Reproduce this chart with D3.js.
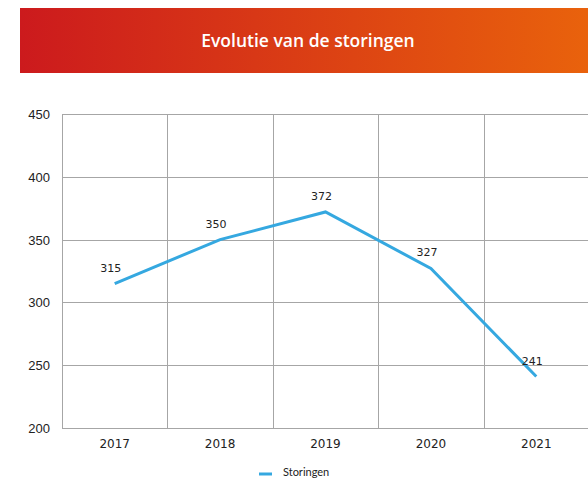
<!DOCTYPE html>
<html>
<head>
<meta charset="utf-8">
<script src="https://cdn.jsdelivr.net/npm/d3@7"></script>
<style>
  body { margin: 0; background: #fff; }
  svg { display: block; }
</style>
</head>
<body>
<div id="chart"></div>
<script>
// data
const years = ["2017", "2018", "2019", "2020", "2021"];
const storingen = [315, 350, 372, 327, 241];
const yTicks = [200, 250, 300, 350, 400, 450];
const seriesName = "Storingen";
const title = "Evolutie van de storingen";

const width = 588, height = 478;
const margin = {top: 114, right: -1, bottom: 50, left: 62};

const svg = d3.select("#chart").append("svg")
  .attr("width", width)
  .attr("height", height);

// banner with gradient
const defs = svg.append("defs");
const grad = defs.append("linearGradient").attr("id", "banner")
  .attr("x1", "0%").attr("x2", "100%").attr("y1", "0%").attr("y2", "0%");
grad.append("stop").attr("offset", "0%").attr("stop-color", "#cc1a1d");
grad.append("stop").attr("offset", "100%").attr("stop-color", "#e9620c");

svg.append("rect")
  .attr("x", 20).attr("y", 8)
  .attr("width", width - 20).attr("height", 65)
  .attr("fill", "url(#banner)");

svg.append("text")
  .attr("x", 308).attr("y", 47)
  .attr("text-anchor", "middle")
  .attr("fill", "#fff")
  .attr("font-family", "Open Sans, sans-serif")
  .attr("font-weight", "600")
  .attr("font-size", "17.5px")
  .text(title);

// scales
const xScale = d3.scaleBand()
  .domain(years)
  .range([margin.left, width - margin.right]);

const yScale = d3.scaleLinear()
  .domain([200, 450])
  .range([height - margin.bottom, margin.top]);

// horizontal grid
svg.append("g")
  .selectAll("line")
  .data(yTicks)
  .join("line")
    .attr("x1", margin.left)
    .attr("x2", width)
    .attr("y1", d => Math.round(yScale(d)) + 0.5)
    .attr("y2", d => Math.round(yScale(d)) + 0.5)
    .attr("stroke", "#a6a6a6")
    .attr("stroke-width", 1);

// vertical grid (band edges)
svg.append("g")
  .selectAll("line")
  .data(years)
  .join("line")
    .attr("x1", d => Math.round(xScale(d)) + 0.5)
    .attr("x2", d => Math.round(xScale(d)) + 0.5)
    .attr("y1", yScale(450))
    .attr("y2", yScale(200))
    .attr("stroke", "#a6a6a6")
    .attr("stroke-width", 1);

// y axis labels
svg.append("g")
  .selectAll("text")
  .data(yTicks)
  .join("text")
    .attr("x", 50)
    .attr("y", d => yScale(d) + 5)
    .attr("text-anchor", "end")
    .attr("fill", "#222")
    .attr("font-family", "Liberation Sans, Arial, sans-serif")
    .attr("font-size", "13px")
    .text(d => d);

// x axis labels
svg.append("g")
  .selectAll("text")
  .data(years)
  .join("text")
    .attr("x", d => xScale(d) + xScale.bandwidth() / 2)
    .attr("y", 448)
    .attr("text-anchor", "middle")
    .attr("fill", "#222")
    .attr("font-family", "DejaVu Sans, sans-serif")
    .attr("font-size", "12px")
    .text(d => d);

// line
const line = d3.line()
  .x((d, i) => xScale(years[i]) + xScale.bandwidth() / 2)
  .y(d => yScale(d));

svg.append("path")
  .datum(storingen)
  .attr("d", line)
  .attr("fill", "none")
  .attr("stroke", "#35a8e0")
  .attr("stroke-width", 3);

// value labels
svg.append("g")
  .selectAll("text")
  .data(storingen)
  .join("text")
    .attr("x", (d, i) => xScale(years[i]) + xScale.bandwidth() / 2 - 4)
    .attr("y", d => yScale(d) - 12)
    .attr("text-anchor", "middle")
    .attr("fill", "#222")
    .attr("font-family", "DejaVu Sans, sans-serif")
    .attr("font-size", "11px")
    .text(d => d);

// legend
svg.append("line")
  .attr("x1", 259).attr("x2", 272)
  .attr("y1", 474).attr("y2", 474)
  .attr("stroke", "#35a8e0")
  .attr("stroke-width", 3);

svg.append("text")
  .attr("x", 283).attr("y", 476)
  .attr("fill", "#222")
  .attr("font-family", "Lato, sans-serif")
  .attr("font-size", "11px")
  .text(seriesName);
</script>
</body>
</html>
